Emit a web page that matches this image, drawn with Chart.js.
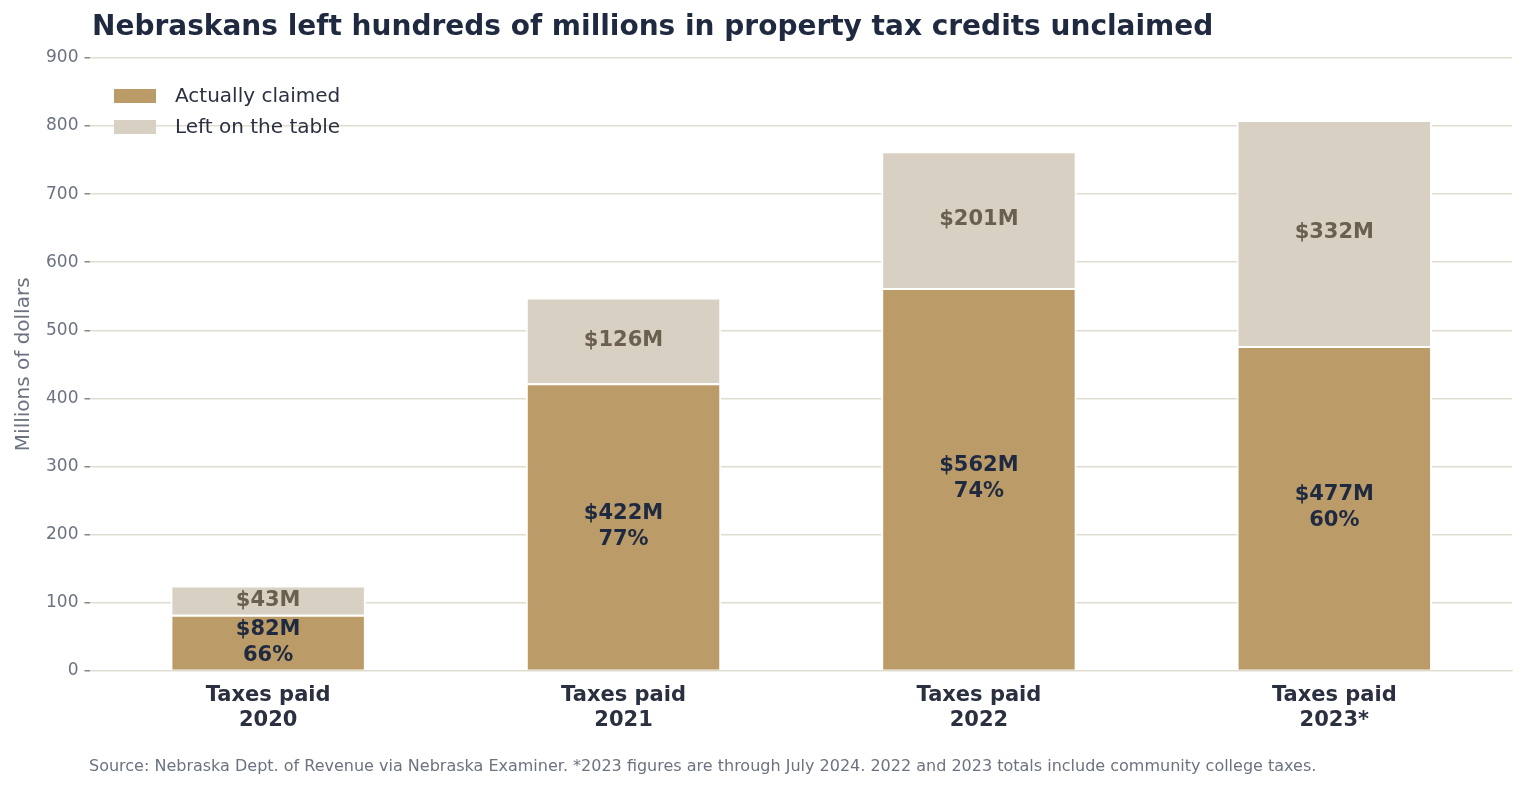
<!DOCTYPE html>
<html lang="en">
<head>
<meta charset="UTF-8" />
<title>Property tax credits</title>
<script src="https://cdn.jsdelivr.net/npm/chart.js"></script>
<style>
  * { margin: 0; padding: 0; box-sizing: border-box; }
  body { background: #fff; width: 1525px; height: 789px; overflow: hidden; }
  #wrap { position: relative; width: 1525px; height: 789px; }
</style>
</head>
<body>
<div id="wrap"><canvas id="chart"></canvas></div>
<script>
const categories = [['Taxes paid', '2020'], ['Taxes paid', '2021'], ['Taxes paid', '2022'], ['Taxes paid', '2023*']];
const claimed = [82, 422, 562, 477];
const leftOnTable = [43, 126, 201, 332];
const claimedPct = [66, 77, 74, 60];
const yTicks = [0, 100, 200, 300, 400, 500, 600, 700, 800, 900];

const FONT = "'DejaVu Sans', sans-serif";
const GOLD = '#bb9c69', TAN = '#d8d0c2';

const decor = {
  id: 'decor',
  afterDraw(chart) {
    const ctx = chart.ctx;
    ctx.save();
    // title
    ctx.fillStyle = '#1f2a40';
    ctx.font = 'bold 28px ' + FONT;
    ctx.textBaseline = 'middle';
    ctx.textAlign = 'left';
    ctx.fillText('Nebraskans left hundreds of millions in property tax credits unclaimed', 92, 28);
    // footer
    ctx.fillStyle = '#6b7280';
    ctx.font = '16px ' + FONT;
    ctx.fillText('Source: Nebraska Dept. of Revenue via Nebraska Examiner. *2023 figures are through July 2024. 2022 and 2023 totals include community college taxes.', 89, 767);
    // legend
    const items = [['Actually claimed', GOLD], ['Left on the table', TAN]];
    ctx.font = '20px ' + FONT;
    items.forEach((it, i) => {
      const y = 96 + i * 31;
      ctx.fillStyle = it[1];
      ctx.fillRect(114, y - 7, 42, 14);
      ctx.fillStyle = '#2a3040';
      ctx.fillText(it[0], 175, y + 1);
    });
    // bar labels
    ctx.textAlign = 'center';
    ctx.font = 'bold 21px ' + FONT;
    const m0 = chart.getDatasetMeta(0), m1 = chart.getDatasetMeta(1);
    m0.data.forEach((bar, i) => {
      const cy = (bar.y + bar.base) / 2;
      ctx.fillStyle = '#1f2a40';
      ctx.fillText('$' + claimed[i] + 'M', bar.x, cy - 13);
      ctx.fillText(claimedPct[i] + '%', bar.x, cy + 13);
    });
    m1.data.forEach((bar, i) => {
      const cy = (bar.y + bar.base) / 2;
      ctx.fillStyle = '#6b5f4f';
      ctx.fillText('$' + leftOnTable[i] + 'M', bar.x, cy);
    });
    ctx.restore();
  }
};

new Chart(document.getElementById('chart'), {
  type: 'bar',
  data: {
    labels: categories,
    datasets: [
      { label: 'Actually claimed', data: claimed, backgroundColor: GOLD, borderColor: '#fff', borderWidth: 2, borderSkipped: 'bottom' },
      { label: 'Left on the table', data: leftOnTable, backgroundColor: TAN, borderColor: '#fff', borderWidth: 2, borderSkipped: 'bottom' }
    ]
  },
  options: {
    responsive: true,
    maintainAspectRatio: false,
    animation: false,
    layout: { padding: { top: 58, right: 13, bottom: 50, left: 8 } },
    datasets: { bar: { categoryPercentage: 0.55, barPercentage: 1 } },
    plugins: { legend: { display: false }, tooltip: { enabled: false } },
    scales: {
      x: {
        stacked: true,
        grid: { display: false, drawTicks: true, tickLength: 6 },
        border: { color: '#e0ddd0' },
        ticks: { color: '#2a3040', font: { family: FONT, size: 21, weight: 'bold' }, padding: 6 }
      },
      y: {
        stacked: true,
        min: 0, max: 900,
        afterBuildTicks: (ax) => { ax.ticks = yTicks.map(v => ({ value: v })); },
        grid: { color: '#e0ddd0', lineWidth: 1.5, tickLength: 6, tickColor: '#888' },
        border: { display: false },
        ticks: { color: '#6b7280', font: { family: FONT, size: 17 }, padding: 6 },
        title: { display: true, text: 'Millions of dollars', color: '#6b7280', font: { family: FONT, size: 20 } }
      }
    }
  },
  plugins: [decor]
});
</script>
</body>
</html>
